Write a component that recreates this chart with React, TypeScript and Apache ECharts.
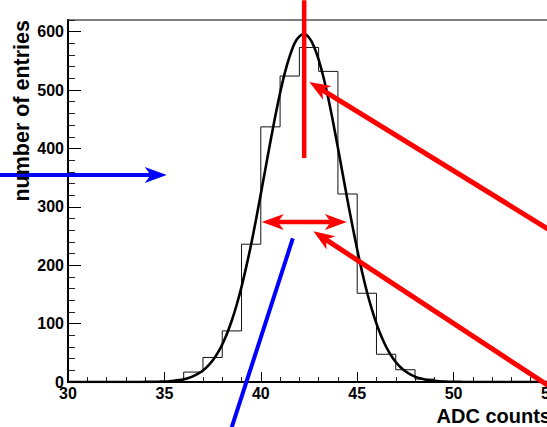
import React, { useEffect, useRef } from "react";
import * as echarts from "echarts";

// Histogram: left bin edges and counts (bin width 1 ADC count)
const binStarts = [35, 36, 37, 38, 39, 40, 41, 42, 43, 44, 45, 46, 47, 48];
const binCounts = [0, 17, 42, 87.5, 236, 437, 524, 573, 532, 322, 152, 47.5, 21, 5];
const lastEdge = 49;

// Fit curve (every 0.25 ADC count in the peak region)
const fitX = [
  30, 33, 33.25, 33.5, 33.75, 34, 34.25, 34.5, 34.75, 35, 35.25, 35.5, 35.75, 36, 36.25, 36.5, 36.75,
  37, 37.25, 37.5, 37.75, 38, 38.25, 38.5, 38.75, 39, 39.25, 39.5, 39.75, 40, 40.25, 40.5, 40.75,
  41, 41.25, 41.5, 41.75, 42, 42.25, 42.5, 42.75, 43, 43.25, 43.5, 43.75, 44, 44.25, 44.5, 44.75,
  45, 45.25, 45.5, 45.75, 46, 46.25, 46.5, 46.75, 47, 47.25, 47.5, 47.75, 48, 48.25, 48.5, 48.75,
  49, 49.25, 49.5, 49.75, 50, 50.25, 50.5, 50.75, 51, 55,
];
const fitY = [
  0, 0, 0, 0, 0.05, 0.13, 0.21, 0.35, 0.56, 0.88, 1.37, 2.1, 3.2, 4.7, 6.9, 10, 14.2,
  19.7, 27.2, 36.8, 49, 64.3, 83.1, 105.7, 132.3, 163, 198, 236, 278, 322, 367, 412, 455,
  495, 530, 558, 580, 592, 596, 590, 575, 552, 522, 486, 445, 401, 356, 311, 268,
  227, 189, 155, 125.5, 100, 78.3, 60.4, 45.8, 34.3, 25.2, 18.3, 13, 9.2, 6.3, 4.3, 2.9,
  1.9, 1.2, 0.8, 0.5, 0.3, 0.2, 0.1, 0, 0, 0,
];

// Axis ticks
const xTicks = [30, 35, 40, 45, 50, 55];
const yTicks = [0, 100, 200, 300, 400, 500, 600];

// Annotations (data coordinates)
const redVertical = [[42.25, 654], [42.25, 383.5]];
const redArrowA = { tail: [54.9, 262], tip: [42.52, 514] };
const redArrowB = { tail: [54.9, -6], tip: [42.73, 258] };
const redDouble = { left: [40.05, 274], right: [44.46, 274] };
const blueArrow = { tail: [26.2, 354.4], tip: [35.12, 354.4] };
const blueLine = [[41.66, 245.8], [38.41, -86]];

const FONT = "'Liberation Sans', Arial, Helvetica, sans-serif";
const RED = "#ff0000";
const BLUE = "#0000ff";

function arrowHead(tail: number[], tip: number[], L: number, W: number, notch: number, color: string) {
  const dx = tip[0] - tail[0];
  const dy = tip[1] - tail[1];
  const len = Math.hypot(dx, dy);
  const ux = dx / len, uy = dy / len;
  const nx = -uy, ny = ux;
  const bx = tip[0] - L * ux, by = tip[1] - L * uy;
  const pts = [
    [tip[0], tip[1]],
    [bx + W * nx, by + W * ny],
    [tip[0] - (L - notch) * ux, tip[1] - (L - notch) * uy],
    [bx - W * nx, by - W * ny],
  ];
  return {
    el: { type: "polygon", z: 100, shape: { points: pts }, style: { fill: color } },
    base: [tip[0] - (L - notch) * ux, tip[1] - (L - notch) * uy],
  };
}

function seg(a: number[], b: number[], color: string, w: number) {
  return {
    type: "line",
    z: 100,
    shape: { x1: a[0], y1: a[1], x2: b[0], y2: b[1] },
    style: { stroke: color, lineWidth: w },
  };
}

export default function App() {
  const ref = useRef<HTMLDivElement>(null);
  useEffect(() => {
    if (!ref.current) return;
    const chart = echarts.init(ref.current, null, { renderer: "svg" });
    const histData = binStarts.map((x, i) => [x, binCounts[i]]);
    histData.push([lastEdge, 0]);
    const fitData = fitX.map((x, i) => [x, fitY[i]]);

    chart.setOption({
      animation: false,
      backgroundColor: "#ffffff",
      grid: {
        left: 68,
        top: 20,
        width: 482,
        height: 362,
        show: true,
        outerBoundsMode: "none",
        containLabel: false,
        borderColor: "#555",
        borderWidth: 1.5,
        backgroundColor: "transparent",
      },
      xAxis: {
        type: "value",
        min: 30,
        max: 55,
        interval: 5,
        splitLine: { show: false },
        axisLine: { show: true, onZero: false, lineStyle: { color: "#000", width: 2 } },
        axisTick: { show: true, inside: true, length: 10, lineStyle: { color: "#000", width: 1 } },
        minorTick: { show: true, splitNumber: 5, length: 5, lineStyle: { color: "#222", width: 1 } },
        axisLabel: {
          show: true,
          margin: 3,
          color: "#000",
          fontFamily: FONT,
          fontWeight: "bold",
          fontSize: 16,
          hideOverlap: false,
          formatter: (v: number) => (xTicks.indexOf(v) >= 0 ? String(v) : ""),
        },
      },
      yAxis: [
        {
          type: "value",
          min: 0,
          max: 620,
          interval: 20,
          splitLine: { show: false },
          axisLine: { show: true, onZero: false, lineStyle: { color: "#000", width: 2 } },
          axisTick: { show: true, inside: true, length: 7, lineStyle: { color: "#222", width: 1 } },
          axisLabel: {
            show: true,
            margin: 4,
            color: "#000",
            fontFamily: FONT,
            fontWeight: "bold",
            fontSize: 16,
            formatter: (v: number) => (yTicks.indexOf(v) >= 0 ? String(v) : ""),
          },
        },
        {
          type: "value",
          min: 0,
          max: 620,
          interval: 100,
          position: "left",
          splitLine: { show: false },
          axisLine: { show: false },
          axisTick: { show: true, inside: true, length: 13, customValues: yTicks, lineStyle: { color: "#000", width: 1 } },
          axisLabel: { show: false },
        },
      ],
      series: [
        {
          type: "line",
          name: "histogram",
          data: histData,
          step: "end",
          showSymbol: false,
          symbol: "none",
          lineStyle: { color: "#111", width: 1 },
          z: 2,
        },
        {
          type: "line",
          name: "fit",
          data: fitData,
          smooth: 0.3,
          showSymbol: false,
          symbol: "none",
          lineStyle: { color: "#000", width: 2.6 },
          z: 3,
        },
      ],
    });

    const P = (p: number[]) => chart.convertToPixel({ gridIndex: 0 }, p) as number[];
    const els: any[] = [];

    // red vertical line
    els.push(seg(P(redVertical[0]), P(redVertical[1]), RED, 4.5));
    // red arrow A
    {
      const t = P(redArrowA.tail), h = P(redArrowA.tip);
      const a = arrowHead(t, h, 21, 8, 6, RED);
      els.push(seg(t, a.base, RED, 5));
      els.push(a.el);
    }
    // red arrow B
    {
      const t = P(redArrowB.tail), h = P(redArrowB.tip);
      const a = arrowHead(t, h, 21, 8, 6, RED);
      els.push(seg(t, a.base, RED, 5));
      els.push(a.el);
    }
    // red double arrow
    {
      const l = P(redDouble.left), r = P(redDouble.right);
      const a1 = arrowHead(r, l, 22, 8, 6, RED);
      const a2 = arrowHead(l, r, 22, 8, 6, RED);
      els.push(seg(a1.base, a2.base, RED, 4.5));
      els.push(a1.el, a2.el);
    }
    // blue arrow
    {
      const t = P(blueArrow.tail), h = P(blueArrow.tip);
      const a = arrowHead(t, h, 22, 8, 6, BLUE);
      els.push(seg(t, a.base, BLUE, 4));
      els.push(a.el);
    }
    // blue line
    els.push(seg(P(blueLine[0]), P(blueLine[1]), BLUE, 4));

    // axis titles
    els.push({
      type: "text",
      z: 100,
      x: 22,
      y: 20,
      rotation: Math.PI / 2,
      style: {
        text: "number of entries",
        fill: "#000",
        font: `bold 21.5px ${FONT}`,
        align: "right",
        verticalAlign: "middle",
      },
    });
    els.push({
      type: "text",
      z: 100,
      x: 551,
      y: 416,
      style: {
        text: "ADC counts",
        fill: "#000",
        font: `bold 20px ${FONT}`,
        align: "right",
        verticalAlign: "middle",
      },
    });

    chart.setOption({ graphic: { elements: els } });
    return () => chart.dispose();
  }, []);
  return (
    <div
      ref={ref}
      style={{ position: "fixed", left: 0, top: 0, width: 547, height: 427, background: "#fff" }}
    />
  );
}
